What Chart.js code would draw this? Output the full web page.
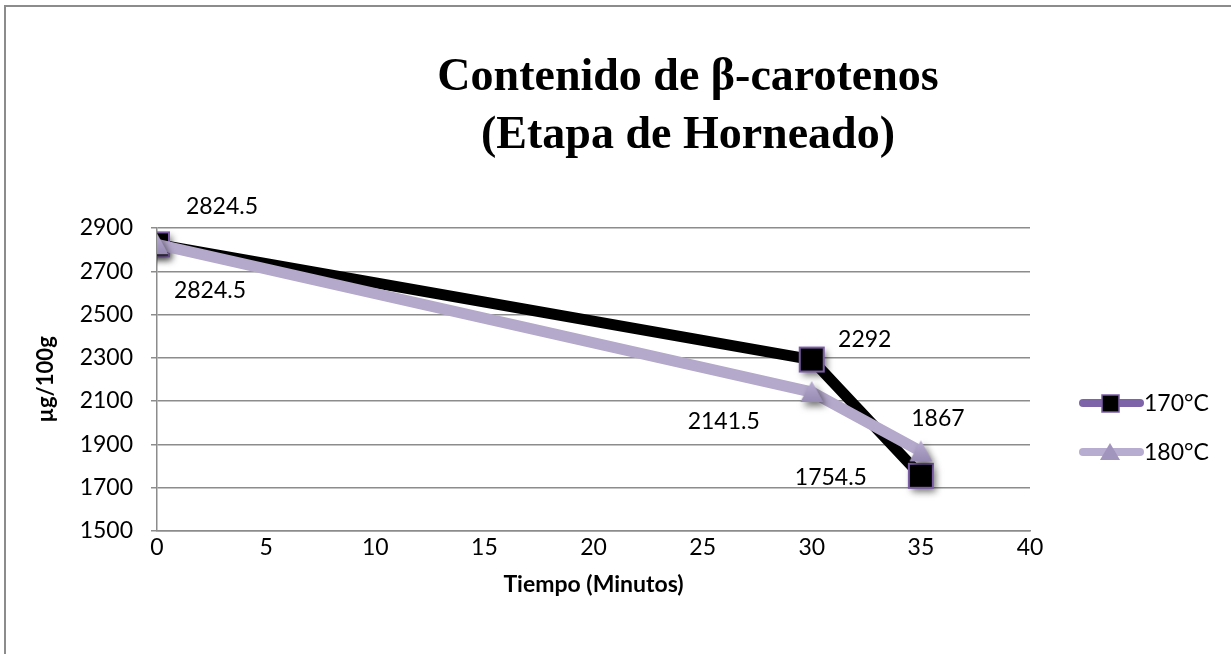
<!DOCTYPE html>
<html>
<head>
<meta charset="utf-8">
<script src="https://cdn.jsdelivr.net/npm/chart.js"></script>
<style>
  html, body { margin: 0; padding: 0; background: #fff; }
  #wrap { width: 1231px; height: 654px; }
</style>
</head>
<body>
<div id="wrap"><canvas id="grafica" width="1231" height="654"></canvas></div>
<script>
// datos
const tiempos = [0, 30, 35];
const valores170 = [2824.5, 2292, 1754.5];
const valores180 = [2824.5, 2141.5, 1867];
const nombresSeries = ["170°C", "180°C"];
const titulo = ["Contenido de β-carotenos", "(Etapa de Horneado)"];
const tituloX = "Tiempo (Minutos)";
const tituloY = "µg/100g";
const ejeX = { min: 0, max: 40, paso: 5 };
const ejeY = { min: 1500, max: 2900, paso: 200 };

// desplazamiento de las etiquetas respecto a cada punto (px)
const despl170 = [[65, -38], [53, -20], [-90, 2]];
const despl180 = [[53, 46], [-88, 30], [17, -33]];

const FUENTE = "Lato, 'Open Sans', sans-serif";
const MORADO = "#7B5DA5";
const LAVANDA = "#B4A8CB";

function marcador(tipo, sombra) {
  const c = document.createElement("canvas");
  c.width = 60; c.height = 60;
  const g = c.getContext("2d");
  g.translate(30, 30);
  if (sombra) {
    g.shadowColor = "rgba(0,0,0,0.55)";
    g.shadowBlur = 7;
    g.shadowOffsetX = 3;
    g.shadowOffsetY = 4;
  }
  g.beginPath();
  if (tipo === "cuadro") {
    g.rect(-12, -12, 24, 24);
    g.fillStyle = "#000";
  } else {
    g.moveTo(0, -11);
    g.lineTo(11.5, 10);
    g.lineTo(-11.5, 10);
    g.closePath();
    const grad = g.createLinearGradient(0, -11, 0, 10);
    grad.addColorStop(0, "#B8ADD1");
    grad.addColorStop(1, "#978AB3");
    g.fillStyle = grad;
  }
  g.fill();
  g.shadowColor = "transparent";
  if (tipo === "cuadro") {
    g.lineWidth = 2;
    g.strokeStyle = MORADO;
    g.stroke();
  }
  return c;
}

const cuadro = marcador("cuadro", true);
const triangulo = marcador("triangulo", true);

const pluginFondo = {
  id: "fondo",
  beforeDraw(chart) {
    const ctx = chart.ctx;
    ctx.save();
    ctx.fillStyle = "#fff";
    ctx.fillRect(0, 0, chart.width, chart.height);
    ctx.strokeStyle = "#8c8c8c";
    ctx.lineWidth = 2;
    ctx.strokeRect(5, 6, chart.width + 20, chart.height + 20);
    ctx.restore();
  },
  afterDraw(chart) {
    const ctx = chart.ctx;
    ctx.save();
    // titulo
    ctx.fillStyle = "#000";
    ctx.textAlign = "center";
    ctx.textBaseline = "alphabetic";
    ctx.font = "bold 46px 'Liberation Serif', 'Times New Roman', serif";
    ctx.fillText(titulo[0], 688, 90);
    ctx.fillText(titulo[1], 688, 148);

    // leyenda
    const items = [
      { y: 403, color: "#7F63A9", tipo: "cuadro" },
      { y: 452, color: "#B7ADD0", tipo: "triangulo" }
    ];
    items.forEach((it, i) => {
      ctx.strokeStyle = it.color;
      ctx.lineWidth = 8;
      ctx.lineCap = "round";
      ctx.beginPath();
      ctx.moveTo(1083, it.y);
      ctx.lineTo(1140, it.y);
      ctx.stroke();
      ctx.beginPath();
      if (it.tipo === "cuadro") {
        ctx.fillStyle = "#000";
        ctx.rect(1102, it.y - 8, 17, 17);
        ctx.fill();
        ctx.lineWidth = 1.5;
        ctx.strokeStyle = MORADO;
        ctx.stroke();
      } else {
        ctx.fillStyle = "#A194BD";
        ctx.moveTo(1110, it.y - 9);
        ctx.lineTo(1120, it.y + 8);
        ctx.lineTo(1100, it.y + 8);
        ctx.closePath();
        ctx.fill();
      }
      ctx.fillStyle = "#000";
      ctx.font = "23px " + FUENTE;
      ctx.textAlign = "left";
      ctx.textBaseline = "middle";
      ctx.fillText(nombresSeries[i], 1144, it.y + 1);
    });
    ctx.restore();
  }
};

const pluginEtiquetas = {
  id: "etiquetas",
  afterDatasetsDraw(chart) {
    const ctx = chart.ctx;
    ctx.save();
    ctx.font = "23px " + FUENTE;
    ctx.fillStyle = "#000";
    ctx.textAlign = "center";
    ctx.textBaseline = "middle";
    chart.data.datasets.forEach((ds, i) => {
      const meta = chart.getDatasetMeta(i);
      meta.data.forEach((p, j) => {
        const d = ds.desplazamientos[j];
        ctx.fillText(String(ds.data[j].y), p.x + d[0], p.y + d[1]);
      });
    });
    ctx.restore();
  }
};

const ctx = document.getElementById("grafica");

new Chart(ctx, {
  type: "line",
  data: {
    datasets: [
      {
        label: nombresSeries[0],
        data: tiempos.map((t, i) => ({ x: t, y: valores170[i] })),
        borderColor: "#000",
        borderWidth: 11,
        pointStyle: cuadro,
        pointRadius: 14,
        tension: 0,
        order: 2,
        desplazamientos: despl170
      },
      {
        label: nombresSeries[1],
        data: tiempos.map((t, i) => ({ x: t, y: valores180[i] })),
        borderColor: LAVANDA,
        borderWidth: 11,
        pointStyle: triangulo,
        pointRadius: 14,
        tension: 0,
        order: 1,
        desplazamientos: despl180
      }
    ]
  },
  options: {
    responsive: false,
    animation: false,
    layout: { padding: { top: 228, right: 201, left: 0, bottom: 0 } },
    plugins: {
      legend: { display: false },
      tooltip: { enabled: false }
    },
    scales: {
      x: {
        type: "linear",
        min: ejeX.min,
        max: ejeX.max,
        ticks: {
          stepSize: ejeX.paso, padding: 3, color: "#000",
          font: { family: FUENTE, size: 23 },
          callback: v => String(v)
        },
        grid: { display: true, drawOnChartArea: false, drawTicks: false },
        border: { display: true, color: "#8c8c8c", width: 1.5 },
        title: {
          display: true,
          text: tituloX,
          color: "#000",
          font: { family: FUENTE, size: 23, weight: "bold" },
          padding: { top: 6, bottom: 56 }
        }
      },
      y: {
        min: ejeY.min,
        max: ejeY.max,
        ticks: {
          stepSize: ejeY.paso, padding: 18, color: "#000",
          font: { family: FUENTE, size: 23 },
          callback: v => String(v)
        },
        grid: { color: "#8c8c8c", lineWidth: 1.5, tickLength: 6 },
        border: { display: true, color: "#8c8c8c", width: 1.5 },
        title: {
          display: true,
          text: tituloY,
          color: "#000",
          font: { family: FUENTE, size: 22, weight: "bold" },
          padding: { top: 33, bottom: 0 }
        },
        afterFit(scale) { scale.width = 157; }
      }
    }
  },
  plugins: [pluginFondo, pluginEtiquetas]
});
</script>
</body>
</html>
